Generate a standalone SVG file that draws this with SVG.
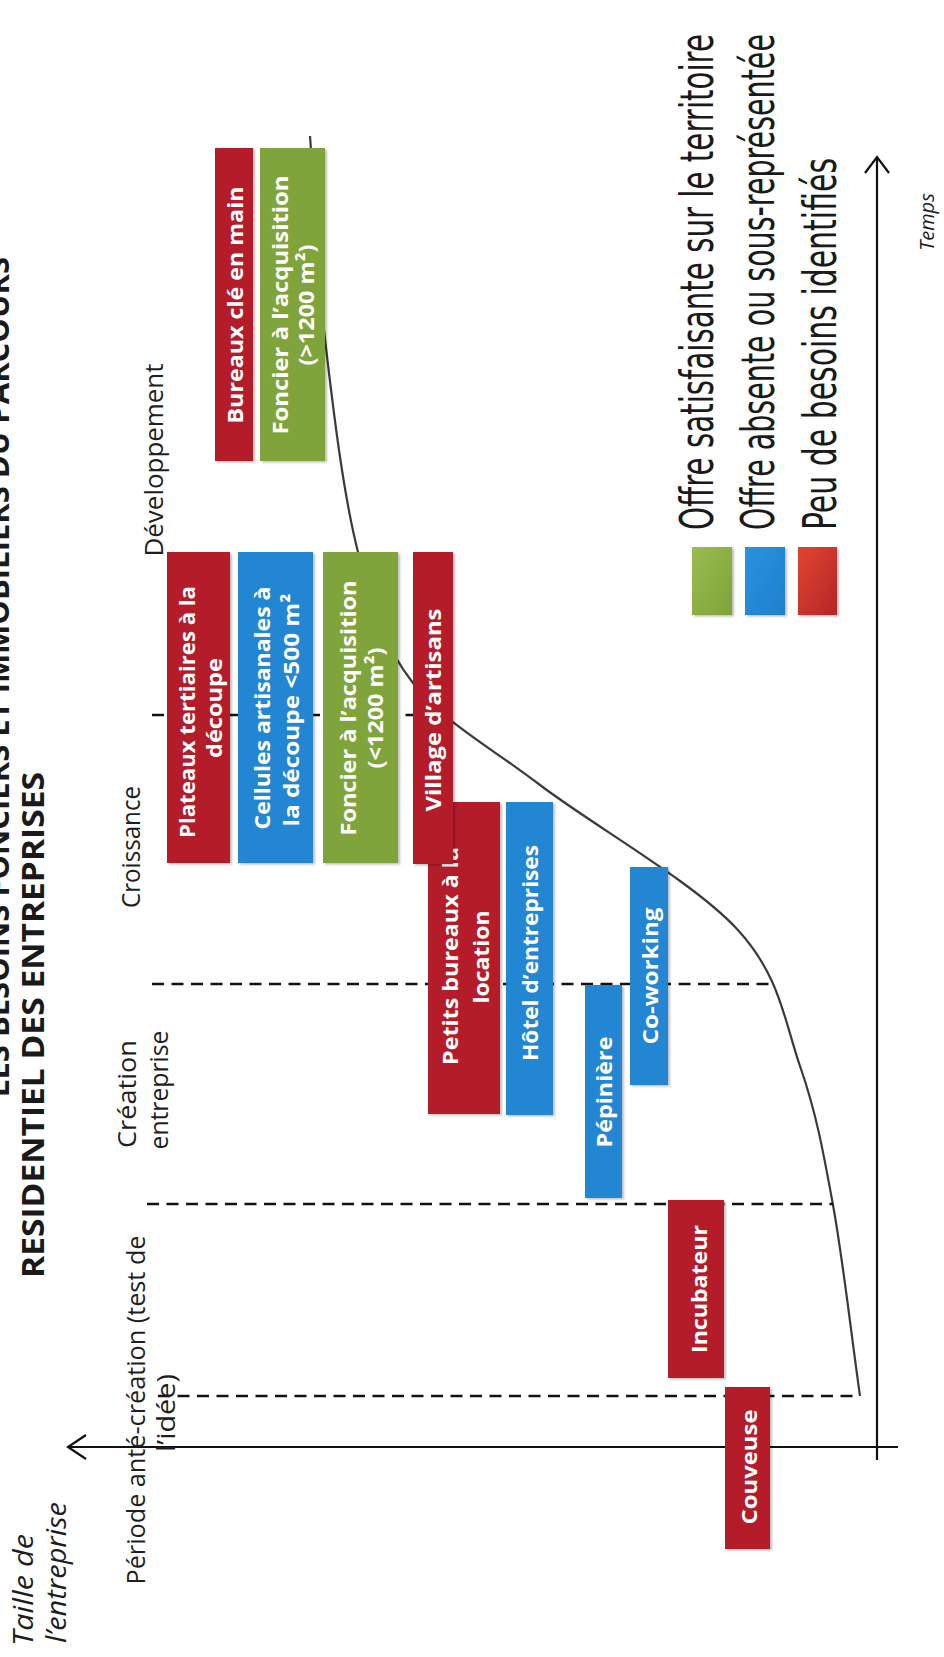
<svg xmlns="http://www.w3.org/2000/svg" width="944" height="1657" viewBox="0 0 944 1657">
<defs>
<style>
.red{fill:#b41c2c}
.blue{fill:#2386d2}
.green{fill:#7fa43a}
.box{filter:url(#sh)}
.lbl{font-family:"Open Sans","Liberation Sans",sans-serif;font-weight:700;font-size:22px;fill:#ffffff}
.phase{font-family:"Open Sans","Liberation Sans",sans-serif;font-size:25px;fill:#1e1e1e}
.ital{font-family:"Open Sans","Liberation Sans",sans-serif;font-style:italic;fill:#1e1e1e}
.title{font-family:"Open Sans","Liberation Sans",sans-serif;font-weight:700;font-size:31px;fill:#1a1a1a}
.leg{font-family:"Liberation Sans Narrow","DejaVu Sans Condensed","Liberation Sans",sans-serif;font-size:41px;fill:#1a1a1a}
.dash{stroke:#111;stroke-width:2.5;stroke-dasharray:12 7.5;fill:none}
.axis{stroke:#111;stroke-width:2.2;fill:none}
.curve{stroke:#3a3a3a;stroke-width:2.2;fill:none}
</style>
<filter id="sh" x="-20%" y="-5%" width="140%" height="115%">
<feDropShadow dx="2" dy="1.5" stdDeviation="1.3" flood-color="#000" flood-opacity="0.25"/>
</filter>
<linearGradient id="gRed" x1="0" y1="0" x2="1" y2="1">
<stop offset="0" stop-color="#e2452f"/><stop offset="1" stop-color="#b3262b"/>
</linearGradient>
<linearGradient id="gGreen" x1="0" y1="0" x2="1" y2="1">
<stop offset="0" stop-color="#9bbc4e"/><stop offset="1" stop-color="#7da33a"/>
</linearGradient>
<linearGradient id="gBlue" x1="0" y1="0" x2="1" y2="1">
<stop offset="0" stop-color="#2a93e0"/><stop offset="1" stop-color="#1f80cc"/>
</linearGradient>
</defs>

<rect width="944" height="1657" fill="#ffffff"/>

<g id="titles">
<text class="title" transform="translate(9,257) rotate(-90)" text-anchor="end">LES BESOINS FONCIERS ET IMMOBILIERS DU PARCOURS</text>
<text class="title" transform="translate(44,1278) rotate(-90)" text-anchor="start" textLength="506" lengthAdjust="spacingAndGlyphs">RESIDENTIEL DES ENTREPRISES</text>
</g>

<g id="axis-labels">
<text class="ital" font-size="27" transform="translate(33,1646) rotate(-90)" text-anchor="start" textLength="112" lengthAdjust="spacingAndGlyphs">Taille de</text>
<text class="ital" font-size="27" transform="translate(66,1643) rotate(-90)" text-anchor="start" textLength="141" lengthAdjust="spacingAndGlyphs">l’entreprise</text>
<text class="ital" font-size="20" transform="translate(934,222) rotate(-90)" text-anchor="middle">Temps</text>
</g>

<g id="connectors">
<path class="curve" d="M310,136 C315,203.7 317,269.7 325,339 C333,408.3 343.3,494.7 358,552 C372.7,609.3 382.7,644.2 413,683 C443.3,721.8 486,744 540,785 C594,826 693.7,882.2 737,929 C780.3,975.8 784,1020 800,1066 C816,1112 823,1150 833,1205 C843,1260 851,1332.3 860,1396"/>
<line class="dash" x1="152" y1="715" x2="440" y2="715"/>
<line class="dash" x1="152" y1="984" x2="770" y2="984"/>
<line class="dash" x1="147" y1="1204" x2="833" y2="1204"/>
<line class="dash" x1="158" y1="1396" x2="860" y2="1396"/>
<line class="axis" x1="68" y1="1447" x2="898" y2="1447"/>
<polyline class="axis" points="86,1435 68,1447 86,1459"/>
<line class="axis" x1="877" y1="157" x2="877" y2="1460"/>
<polyline class="axis" points="865,173 877,157 889,173"/>
</g>

<g id="phases">
<text class="phase" transform="translate(163,460) rotate(-90)" text-anchor="middle" textLength="193" lengthAdjust="spacingAndGlyphs">Développement</text>
<text class="phase" transform="translate(140,847) rotate(-90)" text-anchor="middle" textLength="122" lengthAdjust="spacingAndGlyphs">Croissance</text>
<text class="phase" transform="translate(136,1094) rotate(-90)" text-anchor="middle" textLength="108" lengthAdjust="spacingAndGlyphs">Création</text>
<text class="phase" transform="translate(168,1090) rotate(-90)" text-anchor="middle" textLength="119" lengthAdjust="spacingAndGlyphs">entreprise</text>
<text class="phase" transform="translate(145,1410) rotate(-90)" text-anchor="middle" textLength="349" lengthAdjust="spacingAndGlyphs">Période anté-création (test de</text>
<text class="phase" transform="translate(175,1413) rotate(-90)" text-anchor="middle" textLength="78" lengthAdjust="spacingAndGlyphs">l’idée)</text>
</g>

<g id="node-bureaux-cle">
<rect class="red box" x="215" y="148" width="38" height="313"/>
<text class="lbl" transform="translate(243,305) rotate(-90)" text-anchor="middle" textLength="237" lengthAdjust="spacingAndGlyphs">Bureaux clé en main</text>
</g>
<g id="node-foncier-grand">
<rect class="green box" x="260" y="148" width="65" height="313"/>
<text class="lbl" transform="translate(288,305) rotate(-90)" text-anchor="middle" textLength="259" lengthAdjust="spacingAndGlyphs">Foncier à l’acquisition</text>
<text class="lbl" transform="translate(314,305) rotate(-90)" text-anchor="middle" textLength="121" lengthAdjust="spacingAndGlyphs">(&gt;1200 m²)</text>
</g>

<g id="node-plateaux">
<rect class="red box" x="167" y="552" width="63" height="311"/>
<text class="lbl" transform="translate(195,712) rotate(-90)" text-anchor="middle" textLength="252" lengthAdjust="spacingAndGlyphs">Plateaux tertiaires à la</text>
<text class="lbl" transform="translate(222,708) rotate(-90)" text-anchor="middle" textLength="100" lengthAdjust="spacingAndGlyphs">découpe</text>
</g>
<g id="node-cellules">
<rect class="blue box" x="238" y="552" width="75" height="311"/>
<text class="lbl" transform="translate(270,708) rotate(-90)" text-anchor="middle" textLength="243" lengthAdjust="spacingAndGlyphs">Cellules artisanales à</text>
<text class="lbl" transform="translate(299,710) rotate(-90)" text-anchor="middle" textLength="233" lengthAdjust="spacingAndGlyphs">la découpe &lt;500 m²</text>
</g>
<g id="node-foncier-petit">
<rect class="green box" x="323" y="552" width="75" height="311"/>
<text class="lbl" transform="translate(356,708) rotate(-90)" text-anchor="middle" textLength="255" lengthAdjust="spacingAndGlyphs">Foncier à l’acquisition</text>
<text class="lbl" transform="translate(383,708) rotate(-90)" text-anchor="middle" textLength="121" lengthAdjust="spacingAndGlyphs">(&lt;1200 m²)</text>
</g>

<g id="node-petits-bureaux">
<rect class="red box" x="428" y="802" width="72" height="312"/>
<text class="lbl" transform="translate(458,956) rotate(-90)" text-anchor="middle" textLength="218" lengthAdjust="spacingAndGlyphs">Petits bureaux à la</text>
<text class="lbl" transform="translate(489,957) rotate(-90)" text-anchor="middle" textLength="93" lengthAdjust="spacingAndGlyphs">location</text>
</g>
<g id="node-village">
<rect class="red box" x="413" y="552" width="40" height="312"/>
<text class="lbl" transform="translate(441,710) rotate(-90)" text-anchor="middle" textLength="203" lengthAdjust="spacingAndGlyphs">Village d’artisans</text>
</g>
<g id="node-hotel">
<rect class="blue box" x="506" y="802" width="47" height="313"/>
<text class="lbl" transform="translate(538,953) rotate(-90)" text-anchor="middle" textLength="216" lengthAdjust="spacingAndGlyphs">Hôtel d’entreprises</text>
</g>
<g id="node-pepiniere">
<rect class="blue box" x="585" y="985" width="37" height="213"/>
<text class="lbl" transform="translate(612,1092) rotate(-90)" text-anchor="middle" textLength="111" lengthAdjust="spacingAndGlyphs">Pépinière</text>
</g>
<g id="node-coworking">
<rect class="blue box" x="630" y="867" width="38" height="218"/>
<text class="lbl" transform="translate(658,976) rotate(-90)" text-anchor="middle" textLength="137" lengthAdjust="spacingAndGlyphs">Co-working</text>
</g>
<g id="node-incubateur">
<rect class="red box" x="668" y="1200" width="56" height="178"/>
<text class="lbl" font-size="24" transform="translate(707,1289) rotate(-90)" text-anchor="middle" textLength="128" lengthAdjust="spacingAndGlyphs">Incubateur</text>
</g>
<g id="node-couveuse">
<rect class="red box" x="725" y="1387" width="45" height="162"/>
<text class="lbl" font-size="24" transform="translate(757,1467) rotate(-90)" text-anchor="middle" textLength="115" lengthAdjust="spacingAndGlyphs">Couveuse</text>
</g>

<g id="legend">
<rect x="692" y="547" width="40" height="68" fill="url(#gGreen)" class="box"/>
<rect x="745" y="547" width="40" height="68" fill="url(#gBlue)" class="box"/>
<rect x="798" y="547" width="39" height="68" fill="url(#gRed)" class="box"/>
<text class="leg" transform="translate(713,530) rotate(-90) scale(1,1.12)" text-anchor="start" textLength="496" lengthAdjust="spacingAndGlyphs">Offre satisfaisante sur le territoire</text>
<text class="leg" transform="translate(774,530) rotate(-90) scale(1,1.12)" text-anchor="start" textLength="496" lengthAdjust="spacingAndGlyphs">Offre absente ou sous-représentée</text>
<text class="leg" transform="translate(836,530) rotate(-90) scale(1,1.12)" text-anchor="start" textLength="372" lengthAdjust="spacingAndGlyphs">Peu de besoins identifiés</text>
</g>
</svg>
